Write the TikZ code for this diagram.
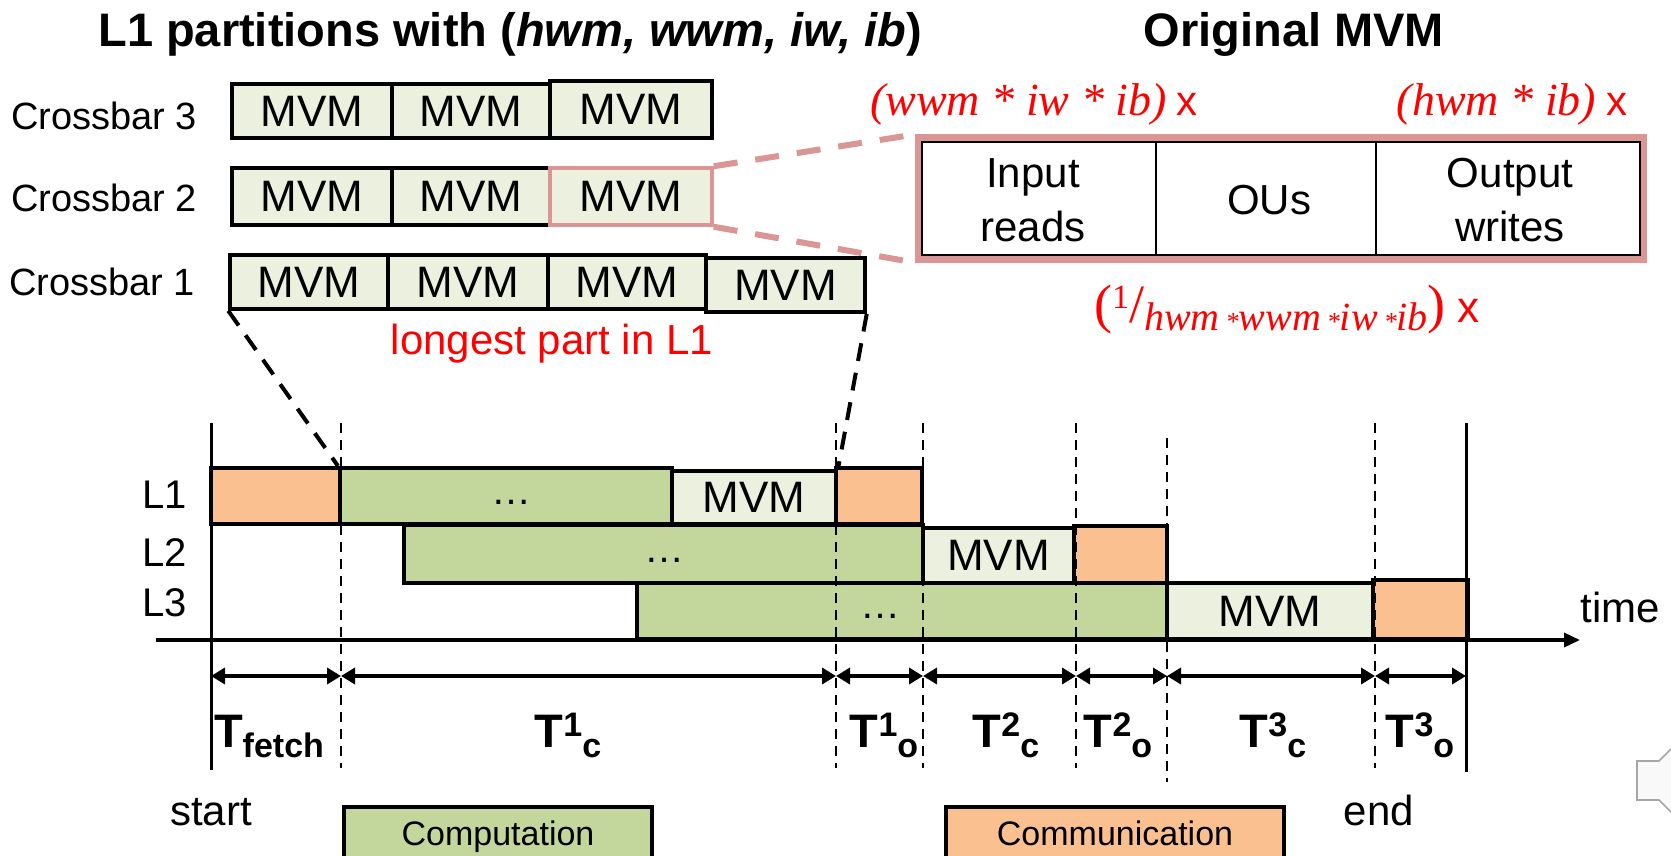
\documentclass[tikz,border=0pt]{standalone}
\usepackage{fontspec}
\setmainfont{Liberation Sans}
\newfontfamily\rmserif{Liberation Serif}
\usetikzlibrary{arrows.meta}
\definecolor{mvmfill}{HTML}{EBF1DE}
\definecolor{compfill}{HTML}{C3D69B}
\definecolor{commfill}{HTML}{FAC090}
\definecolor{pinkb}{HTML}{D99694}
\definecolor{redt}{HTML}{FF0000}
\newcommand{\myfs}[1]{\fontsize{#1}{#1}\selectfont}
\newcommand{\Tl}[2]{T\raisebox{5.5pt}{\myfs{17}#1}\raisebox{-5pt}{\myfs{17}#2}}
% box from (x1,y1) to (x2,y2) in pixel units
\newcommand{\bx}[7][]{\node[#1, minimum width={(#4-#2)*0.5pt}, minimum height={(#5-#3)*0.5pt}] (#6) at ({(#2+#4)/2},{(#3+#5)/2}) {#7};}
\tikzset{
  cell/.style={draw=black, line width=1.75pt, fill=mvmfill, inner sep=0pt, font=\myfs{22}},
  tbox/.style={draw=black, line width=2pt, inner sep=0pt, font=\myfs{22}},
  lab/.style={inner sep=0pt, font=\myfs{19}},
  ttl/.style={inner sep=0pt, font=\bfseries\myfs{23.5}},
  txt/.style={inner sep=0pt, font=\fontsize{21}{27}\selectfont, align=center},
  redl/.style={inner sep=0pt, text=redt},
  vdash/.style={draw=black, line width=0.8pt, dash pattern=on 5pt off 3.5pt},
  zoomdash/.style={draw=black, line width=2pt, dash pattern=on 9pt off 6pt},
  pinkdash/.style={draw=pinkb, line width=3pt, dash pattern=on 12pt off 9pt},
  dim/.style={line width=1.75pt, {Triangle[length=7pt,width=8pt]}-{Triangle[length=7pt,width=8pt]}},
  tlab/.style={inner sep=0pt, font=\bfseries\myfs{23.5}, anchor=base},
}
\begin{document}
\begin{tikzpicture}[x=0.5pt,y=-0.5pt]
\useasboundingbox (0,0) rectangle (1671,856);
% titles
\node[ttl, anchor=base] (title) at (510,47) {L1 partitions with (\textit{hwm, wwm, iw, ib})};
\node[ttl, anchor=base] (origt) at (1294,47) {Original MVM};
% crossbar labels
\node[lab, anchor=base] (cb3) at (104,130) {Crossbar 3};
\node[lab, anchor=base] (cb2) at (104,212) {Crossbar 2};
\node[lab, anchor=base] (cb1) at (102,295) {Crossbar 1};
% crossbar cells
\bx[cell]{232}{84}{392}{138}{c3a}{MVM}
\bx[cell]{392}{84}{550}{138}{c3b}{MVM}
\bx[cell]{550}{81}{712}{138}{c3c}{MVM}
\bx[cell]{232}{168}{392}{225}{c2a}{MVM}
\bx[cell]{392}{168}{550}{225}{c2b}{MVM}
\bx[cell,draw=pinkb]{550}{168}{712}{225}{c2c}{MVM}
\bx[cell]{230}{255}{388}{309}{c1a}{MVM}
\bx[cell]{388}{255}{548}{309}{c1b}{MVM}
\bx[cell]{548}{255}{706}{309}{c1c}{MVM}
\bx[cell]{706}{258}{865}{312}{c1d}{MVM}
\node[redl, font=\myfs{21}, anchor=base] (longest) at (552,354) {longest part in L1};
% original MVM box
\bx[draw=pinkb, line width=3.5pt, fill=white, inner sep=0pt]{918}{138}{1643}{259}{big}{}
\bx[draw=black, line width=0.7pt, inner sep=0pt]{922}{142}{1640}{255}{bigin}{}
\coordinate (d1t) at (1156,142); \coordinate (d1b) at (1156,255);
\coordinate (d2t) at (1376,142); \coordinate (d2b) at (1376,255);
\draw[line width=1.3pt] (d1t) -- (d1b);
\draw[line width=1.3pt] (d2t) -- (d2b);
\node[txt] (inr) at (1033,200) {Input\\reads};
\node[txt] (ous) at (1269,200) {OUs};
\node[txt] (outw) at (1510,200) {Output\\writes};
\draw[pinkdash] (c2c.north east) -- (big.north west);
\draw[pinkdash] (c2c.south east) -- (big.south west);
% red formulas
\node[redl, anchor=base] (f1) at (1034,116) {{\rmserif\itshape\myfs{23}(wwm * iw * ib)}\hspace{5pt}{\myfs{21}x}};
\node[redl, anchor=base] (f2) at (1512,116) {{\rmserif\itshape\myfs{23}(hwm * ib)}\hspace{5pt}{\myfs{21}x}};
\node[redl, anchor=base] (f3) at (1287,322) {{\rmserif\myfs{27}(}\raisebox{7pt}{\rmserif\myfs{17}1}{\rmserif\myfs{27}/}\raisebox{-4pt}{\rmserif\itshape\myfs{20}hwm\hspace{3pt}{\myfs{13}*}wwm\hspace{3pt}{\myfs{13}*}iw\hspace{3pt}{\myfs{13}*}ib}{\rmserif\myfs{27})}\hspace{6pt}{\myfs{22}x}};
% timeline boxes
\bx[tbox, fill=commfill]{211}{468}{340}{524}{l1o}{}
\bx[tbox, fill=compfill]{340}{468}{672}{524}{l1g}{}
\bx[tbox, fill=mvmfill]{672}{471}{836}{524}{l1m}{MVM}
\bx[tbox, fill=commfill]{836}{468}{922}{524}{l1c}{}
\bx[tbox, fill=compfill]{404}{525}{923}{583}{l2g}{}
\bx[tbox, fill=mvmfill]{923}{528}{1074}{583}{l2m}{MVM}
\bx[tbox, fill=commfill]{1074}{526}{1167}{583}{l2c}{}
\bx[tbox, fill=compfill]{637}{583}{1167}{639}{l3g}{}
\bx[tbox, fill=mvmfill]{1167}{583}{1373}{639}{l3m}{MVM}
\bx[tbox, fill=commfill]{1373}{580}{1468}{639}{l3c}{}
\node[inner sep=0pt, font=\myfs{20}, anchor=base] (e1) at (511,504) {…};
\node[inner sep=0pt, font=\myfs{20}, anchor=base] (e2) at (664,562) {…};
\node[inner sep=0pt, font=\myfs{20}, anchor=base] (e3) at (880,618) {…};
% row labels
\node[lab, font=\myfs{20}] (L1) at (165,495) {L1};
\node[lab, font=\myfs{20}] (L2) at (165,553) {L2};
\node[lab, font=\myfs{20}] (L3) at (165,603) {L3};
% dashed verticals
\foreach \x/\a/\b in {341/423/768, 836/423/768, 923/423/768, 1076/423/768, 1167/438/782, 1375/423/768}{
  \draw[vdash] (\x,\a) -- (\x,\b);
}
% zoom dashed lines
\draw[zoomdash] (c1a.south west) -- (l1g.north west);
\draw[zoomdash] (c1d.south east) -- (l1m.north east);
% axis and boundaries
\coordinate (ax0) at (156,640); \coordinate (ax1) at (1580,640);
\draw[line width=1.75pt, -{Triangle[length=8pt,width=7pt]}] (ax0) -- (ax1);
\coordinate (s0) at (211,423); \coordinate (s1) at (211,770);
\coordinate (e0) at (1466,423); \coordinate (e1b) at (1466,772);
\draw[line width=1.5pt] (s0) -- (s1);
\draw[line width=1.5pt] (e0) -- (e1b);
\node[inner sep=0pt, font=\myfs{21}] (timel) at (1620,607) {time};
% dimension arrows
\foreach \i/\x in {0/211,1/341,2/836,3/923,4/1076,5/1167,6/1375,7/1466}{
  \coordinate (t\i) at (\x,676);
}
\foreach \i/\j in {0/1,1/2,2/3,3/4,4/5,5/6,6/7}{
  \draw[dim] (t\i) -- (t\j);
}
% T labels
\node[tlab] (tf) at (269,747) {T\raisebox{-5pt}{\myfs{17}fetch}};
\node[tlab] (tc1) at (568,747) {\Tl{1}{c}};
\node[tlab] (to1) at (884,747) {\Tl{1}{o}};
\node[tlab] (tc2) at (1006,747) {\Tl{2}{c}};
\node[tlab] (to2) at (1118,747) {\Tl{2}{o}};
\node[tlab] (tc3) at (1273,747) {\Tl{3}{c}};
\node[tlab] (to3) at (1420,747) {\Tl{3}{o}};
% start / end
\node[inner sep=0pt, font=\myfs{21}, anchor=base] (startl) at (211,825) {start};
\node[inner sep=0pt, font=\myfs{21}, anchor=base] (endl) at (1379,825) {end};
% legend
\bx[tbox, fill=compfill]{344}{807}{652}{880}{comp}{}
\node[inner sep=0pt, font=\myfs{17}, anchor=base] (compt) at (498,845) {Computation};
\bx[tbox, fill=commfill]{946}{807}{1284}{880}{comm}{}
\node[inner sep=0pt, font=\myfs{17}, anchor=base] (commt) at (1115,845) {Communication};
% speaker icon fragment
\draw[draw=gray!70, fill=gray!5, line width=0.8pt] (1685,735) -- (1659,761) -- (1637,761) -- (1637,800) -- (1659,800) -- (1685,826);
\end{tikzpicture}
\end{document}
